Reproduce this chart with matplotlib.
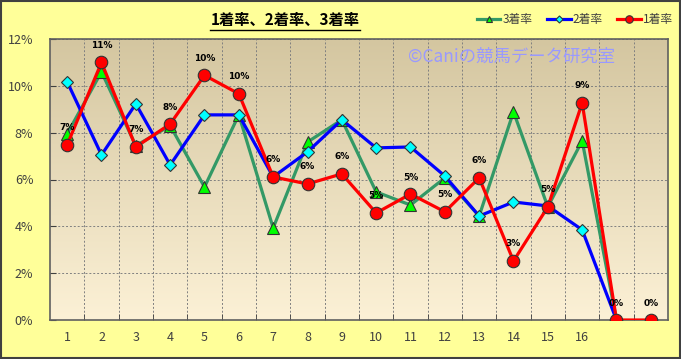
import numpy as np
import matplotlib.pyplot as plt
from matplotlib.lines import Line2D
from matplotlib.patches import Rectangle

plt.rcParams['font.family'] = ['Noto Sans CJK JP', 'DejaVu Sans']

labels = ["1", "2", "3", "4", "5", "6", "7", "8", "9", "10",
          "11", "12", "13", "14", "15", "16", "", ""]

rate1 = [7.48, 11.0, 7.39, 8.37, 10.45, 9.66, 6.11, 5.81, 6.24, 4.57,
         5.38, 4.62, 6.07, 2.52, 4.83, 9.27, 0.0, 0.0]
rate2 = [10.17, 7.05, 9.23, 6.62, 8.76, 8.76, 6.11, 7.18, 8.55, 7.35,
         7.39, 6.15, 4.44, 5.04, 4.87, 3.85, 0.0]
rate3 = [7.95, 10.6, 7.44, 8.3, 5.68, 8.76, 3.93, 7.6, 8.55, 5.47,
         4.91, 6.07, 4.44, 8.89, 4.83, 7.65, 0.0]

fig = plt.figure(figsize=(6.81, 3.59), dpi=100, facecolor='#FFFF99')
ax = fig.add_axes([50/681, 1 - 320/359, 618/681, 281/359])

# gradient background of the plot area
grad = np.linspace(0, 1, 256).reshape(-1, 1)
top = np.array([212, 198, 160]) / 255
bot = np.array([252, 241, 214]) / 255
img = top + (bot - top) * grad[:, :, None]
ax.imshow(img, extent=[0, 1, 0, 1], transform=ax.transAxes,
          aspect='auto', zorder=0)

x = np.arange(len(labels))
ax.plot(x[:len(rate3)], rate3, color='#339966', lw=2.3, marker='^', ms=8,
        mfc='#00FF00', mec='#333333', mew=0.8, label='3着率', zorder=3)
ax.plot(x[:len(rate2)], rate2, color='#0000FF', lw=2.3, marker='D', ms=6,
        mfc='#00FFFF', mec='#333333', mew=0.8, label='2着率', zorder=4)
ax.plot(x, rate1, color='#FF0000', lw=2.3, marker='o', ms=9,
        mfc='#FF0000', mec='#333333', mew=0.8, label='1着率', zorder=5)

for xi, v in zip(x, rate1):
    ax.annotate(f"{int(v + 0.5)}%", (xi, v), xytext=(0, 9),
                textcoords='offset points', ha='center', va='bottom',
                fontsize=6.5, fontweight='bold', family='DejaVu Sans',
                zorder=6)

ax.set_xlim(-0.5, len(labels) - 0.5)
ax.set_ylim(0, 12)
ax.set_yticks(range(0, 13, 2))
ax.set_yticklabels([f"{t}%" for t in range(0, 13, 2)])
ax.set_xticks(x)
ax.set_xticklabels(labels)
ax.set_xticks(np.arange(0.5, len(labels) - 0.5, 1), minor=True)
ax.tick_params(axis='x', which='major', length=0, pad=8)
ax.tick_params(axis='x', which='minor', length=4, direction='in', color='#404040')
ax.tick_params(axis='y', length=4, direction='in', color='#404040', pad=12)
ax.tick_params(labelsize=9, labelcolor='#404040')
ax.grid(True, which='minor', axis='x', ls=(0, (2, 2)), color='#808080', lw=0.7, zorder=1)
ax.grid(True, which='major', axis='y', ls=(0, (2, 2)), color='#808080', lw=0.7, zorder=1)
for s in ax.spines.values():
    s.set_color('#606060')
    s.set_linewidth(1.2)

ax.text(0.915, 0.935, '©Caniの競馬データ研究室', transform=ax.transAxes,
        ha='right', va='center', fontsize=12.5, color='#9999FF', zorder=2)

leg = ax.legend(loc='center', bbox_to_anchor=(575/681, 1 - 20/359),
                bbox_transform=fig.transFigure, ncol=3, frameon=False,
                fontsize=8.5, handlelength=2.0, handletextpad=0.2,
                columnspacing=1.2, markerscale=0.6)
for t in leg.get_texts():
    t.set_color('#404040')

title = fig.text(285/681, 1 - 20/359, '1着率、2着率、3着率', ha='center',
                 va='center', fontsize=11, fontweight='bold')
fig.canvas.draw()
bb = title.get_window_extent().transformed(fig.transFigure.inverted())
fig.add_artist(Line2D([bb.x0, bb.x1], [bb.y0 - 0.005, bb.y0 - 0.005],
                      transform=fig.transFigure, color='black', lw=1))

fig.add_artist(Rectangle((0.001, 0.002), 0.997, 0.996, transform=fig.transFigure,
                         fill=False, edgecolor='#404040', lw=1.5))

fig.savefig('out.png', dpi=100, facecolor=fig.get_facecolor())
